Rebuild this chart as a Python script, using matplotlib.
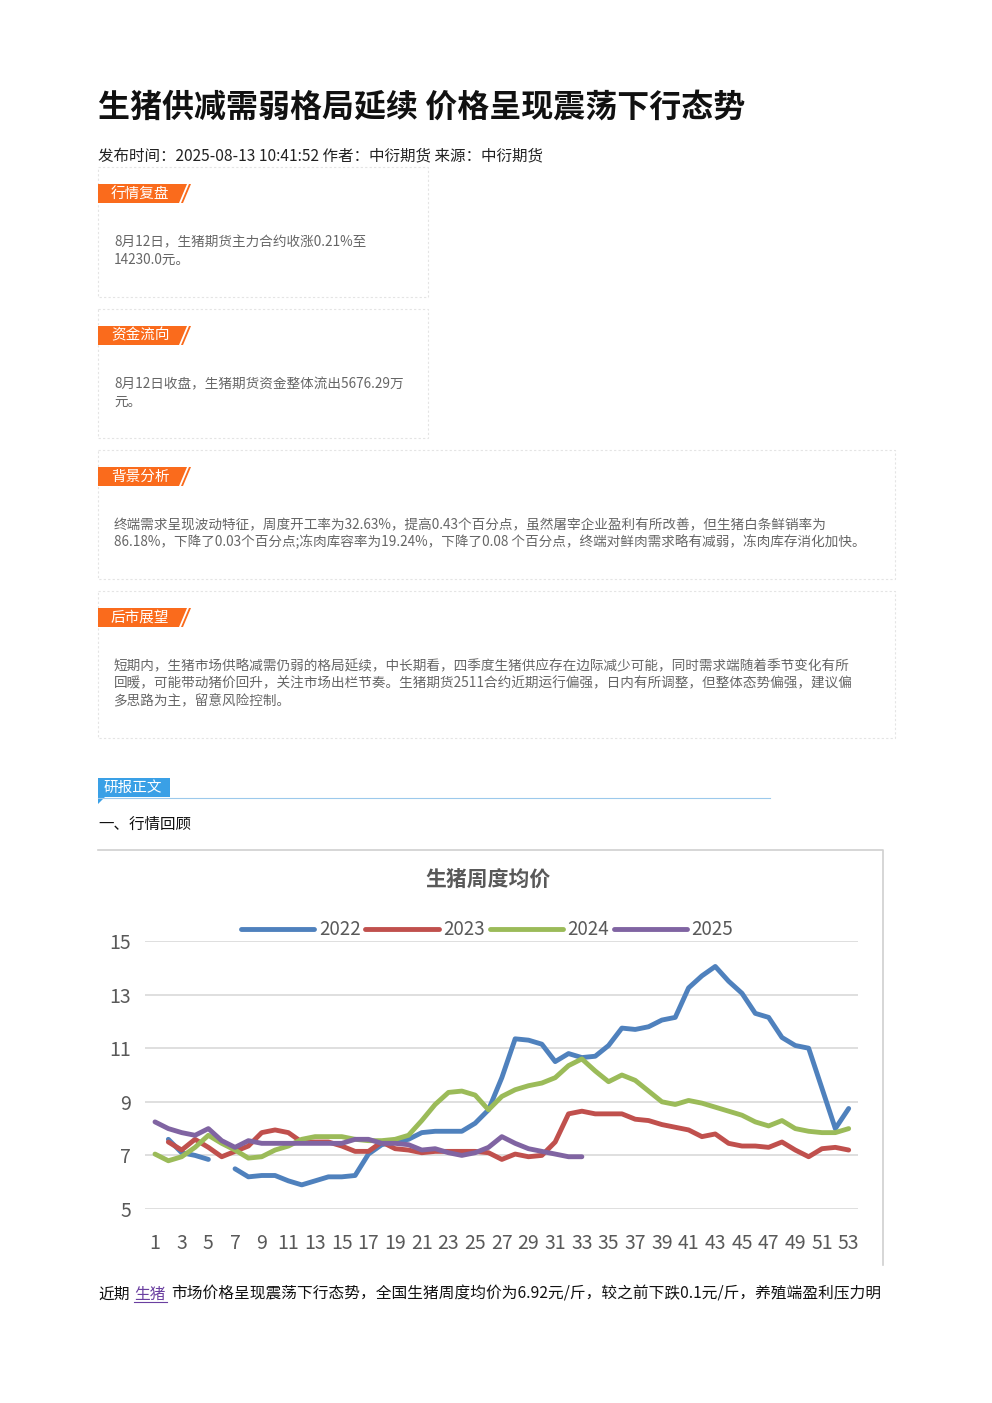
import numpy as np
import matplotlib
matplotlib.use("Agg")
from matplotlib import pyplot as plt
from matplotlib.patches import Rectangle, Polygon

plt.rcParams['font.family'] = ['Noto Sans CJK SC', 'DejaVu Sans']

# weekly average pig price (yuan/kg), weeks 1..53
weeks = np.arange(1, 54)
p2022 = [np.nan, 7.6, 7.1, 7.0, 6.85, np.nan, 6.5, 6.2, 6.25, 6.25, 6.05, 5.9, 6.05, 6.2, 6.2, 6.25,
         7.05, 7.4, 7.5, 7.6, 7.85, 7.9, 7.9, 7.9, 8.2, 8.7, 9.9, 11.35, 11.3, 11.15, 10.5, 10.8,
         10.65, 10.7, 11.1, 11.75, 11.7, 11.8, 12.05, 12.15, 13.25, 13.7, 14.05, 13.5, 13.05, 12.3,
         12.15, 11.4, 11.1, 11.0, 9.5, 8.0, 8.75]
p2023 = [np.nan, 7.5, 7.2, 7.6, 7.3, 6.95, 7.15, 7.35, 7.85, 7.95, 7.85, 7.5, 7.5, 7.5, 7.35, 7.15,
         7.15, 7.5, 7.25, 7.2, 7.1, 7.15, 7.15, 7.15, 7.15, 7.1, 6.85, 7.05, 6.95, 7.0, 7.5, 8.55,
         8.65, 8.55, 8.55, 8.55, 8.35, 8.3, 8.15, 8.05, 7.95, 7.7, 7.8, 7.45, 7.35, 7.35, 7.3, 7.5,
         7.2, 6.95, 7.25, 7.3, 7.2]
p2024 = [7.05, 6.8, 6.95, 7.3, 7.75, 7.45, 7.2, 6.9, 6.95, 7.2, 7.35, 7.6, 7.7, 7.7, 7.7, 7.6,
         7.55, 7.55, 7.6, 7.75, 8.3, 8.9, 9.35, 9.4, 9.25, 8.7, 9.2, 9.45, 9.6, 9.7, 9.9, 10.35,
         10.6, 10.15, 9.75, 10.0, 9.8, 9.4, 9.0, 8.9, 9.05, 8.95, 8.8, 8.65, 8.5, 8.25, 8.1, 8.3,
         8.0, 7.9, 7.85, 7.85, 8.0]
p2025 = [8.25, 8.0, 7.85, 7.75, 8.0, 7.55, 7.3, 7.55, 7.45, 7.45, 7.45, 7.45, 7.45, 7.45, 7.45,
         7.6, 7.6, 7.45, 7.45, 7.4, 7.2, 7.25, 7.1, 7.0, 7.1, 7.3, 7.7, 7.45, 7.25, 7.15, 7.05,
         6.95, 6.95]
series = [("2022", p2022, "#4f81bd"), ("2023", p2023, "#c0504d"),
          ("2024", p2024, "#9bbb59"), ("2025", p2025, "#8064a2")]
yticks = [5, 7, 9, 11, 13, 15]

W, H = 992, 1403
fig = plt.figure(figsize=(W / 100, H / 100), dpi=100)
bg = fig.add_axes([0, 0, 1, 1])
bg.set_xlim(0, W)
bg.set_ylim(H, 0)
bg.axis("off")

bg.text(98, 108, "生猪供减需弱格局延续 价格呈现震荡下行态势", fontsize=23, fontweight="bold",
        va="center", color="#111111")
bg.text(98, 157, "发布时间：2025-08-13 10:41:52 作者：中衍期货 来源：中衍期货", fontsize=11.2,
        va="center", color="#222222")


def section(y0, y1, x1, tag, lines):
    bg.add_patch(Rectangle((98, y0), x1 - 98, y1 - y0, fill=False, ec="#e4e4e4",
                           ls=(0, (2, 2)), lw=0.8))
    bg.add_patch(Polygon([(98, y0 + 17), (187, y0 + 17), (179, y0 + 36), (98, y0 + 36)],
                         closed=True, fc="#fa6b1c", ec="none"))
    bg.add_patch(Polygon([(181, y0 + 36), (189, y0 + 17), (191, y0 + 17), (183, y0 + 36)],
                         closed=True, fc="#fa6b1c", ec="none"))
    bg.text(111, y0 + 26.5, tag, fontsize=10.5, color="white", va="center")
    for i, ln in enumerate(lines):
        bg.text(114, y0 + 75 + i * 17.5, ln, fontsize=9.8, color="#666666", va="center")


section(167, 297, 428, "行情复盘", ["8月12日，生猪期货主力合约收涨0.21%至", "14230.0元。"])
section(309, 438, 428, "资金流向", ["8月12日收盘，生猪期货资金整体流出5676.29万", "元。"])
section(450, 579, 895, "背景分析",
        ["终端需求呈现波动特征，周度开工率为32.63%，提高0.43个百分点，虽然屠宰企业盈利有所改善，但生猪白条鲜销率为",
         "86.18%，下降了0.03个百分点;冻肉库容率为19.24%，下降了0.08 个百分点，终端对鲜肉需求略有减弱，冻肉库存消化加快。"])
section(591, 738, 895, "后市展望",
        ["短期内，生猪市场供略减需仍弱的格局延续，中长期看，四季度生猪供应存在边际减少可能，同时需求端随着季节变化有所",
         "回暖，可能带动猪价回升，关注市场出栏节奏。生猪期货2511合约近期运行偏强，日内有所调整，但整体态势偏强，建议偏",
         "多思路为主，留意风险控制。"])

# research tag
bg.add_patch(Polygon([(98, 778), (170, 778), (170, 797), (105, 797), (98, 804)], closed=True,
                     fc="#3aa0e6", ec="none"))
bg.plot([98, 770], [797.5, 797.5], color="#9cc9ec", lw=0.8)
bg.text(104, 788, "研报正文", fontsize=10.5, color="white", va="center")
bg.text(98, 824, "一、行情回顾", fontsize=11.2, color="#111111", va="center")

# chart frame
bg.plot([98, 883, 883], [850, 850, 1265], color="#d0d0d0", lw=1.2)
bg.text(488, 879, "生猪周度均价", fontsize=15, color="#595959", ha="center", va="center",
        fontweight="bold")

bg.text(98, 1294, "近期", fontsize=11.3, color="#111111", va="center")
bg.text(134, 1294, "生猪", fontsize=11.3, color="#6a3fa0", va="center")
bg.plot([134, 167], [1302, 1302], color="#6a3fa0", lw=0.8)
bg.text(171, 1294, "市场价格呈现震荡下行态势，全国生猪周度均价为6.92元/斤，较之前下跌0.1元/斤，养殖端盈利压力明",
        fontsize=11.3, color="#111111", va="center")

# chart axes
ax = fig.add_axes([145 / W, 1 - 1209 / H, (858 - 145) / W, (1209 - 941) / H])
for name, vals, col in series:
    ax.plot(weeks[:len(vals)], vals, color=col, lw=3.5, label=name, solid_capstyle="round")
ax.set_xlim(0.25, 53.7)
ax.set_ylim(5, 15)
ax.set_yticks(yticks)
ax.set_xticks(weeks[::2])
ax.grid(axis="y", color="#d9d9d9", lw=1.2)
for s in ax.spines.values():
    s.set_visible(False)
ax.tick_params(length=0, labelsize=14, colors="#595959")
ax.tick_params(axis="x", pad=17)
ax.tick_params(axis="y", pad=10)
ax.set_axisbelow(True)
ax.legend(loc="lower center", bbox_to_anchor=(0.48, 0.94), ncol=4, frameon=False, fontsize=13.5,
          handlelength=3.9, handletextpad=0.25, columnspacing=0.25, labelcolor="#595959")

fig.savefig("out.png", dpi=100)
